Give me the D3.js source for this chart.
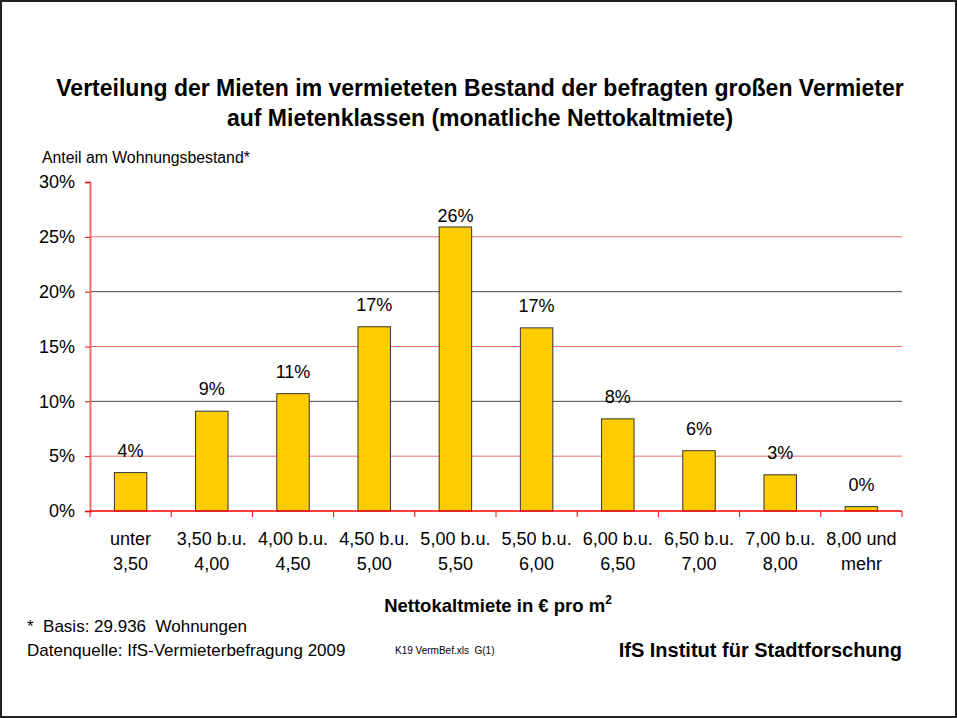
<!DOCTYPE html>
<html>
<head>
<meta charset="utf-8">
<script src="https://cdn.jsdelivr.net/npm/d3@7"></script>
<style>
  body { margin: 0; background: #fff; }
  svg { font-family: "Liberation Sans", Arial, sans-serif; }
  text { white-space: pre; }
</style>
</head>
<body>
<svg width="957" height="718"></svg>
<script>
// Data
var categories = ['unter|3,50', '3,50 b.u.|4,00', '4,00 b.u.|4,50', '4,50 b.u.|5,00', '5,00 b.u.|5,50',
    '5,50 b.u.|6,00', '6,00 b.u.|6,50', '6,50 b.u.|7,00', '7,00 b.u.|8,00', '8,00 und|mehr'];
var shares = [3.5, 9.1, 10.7, 16.8, 25.9, 16.7, 8.4, 5.5, 3.3, 0.4];
var labels = ['4%', '9%', '11%', '17%', '26%', '17%', '8%', '6%', '3%', '0%'];
var yTicks = [0, 5, 10, 15, 20, 25, 30];

var svg = d3.select('svg');
var svgWidth = +svg.attr('width');
var svgHeight = +svg.attr('height');

// frame round the whole sheet
svg.append('rect')
    .attr('x', 1).attr('y', 1)
    .attr('width', svgWidth - 2).attr('height', svgHeight - 2)
    .attr('fill', 'none')
    .attr('stroke', '#222')
    .attr('stroke-width', 2);

var padding = {t: 182, r: 55, b: 207, l: 90};
var chartWidth = svgWidth - padding.l - padding.r;
var chartHeight = svgHeight - padding.t - padding.b;

var chartG = svg.append('g')
    .attr('transform', 'translate(' + [padding.l, padding.t] + ')');

var xScale = d3.scaleBand()
    .domain(categories)
    .range([0, chartWidth])
    .paddingInner(0.6)
    .paddingOuter(0.3);

var yScale = d3.scaleLinear()
    .domain([0, 30])
    .range([chartHeight, 0]);

// gridlines: red at 5/15/25, dark at 10/20
chartG.selectAll('.grid')
    .data(yTicks.filter(function(d) { return d > 0 && d < 30; }))
    .enter()
    .append('line')
    .attr('class', 'grid')
    .attr('x1', 0).attr('x2', chartWidth)
    .attr('y1', function(d) { return yScale(d); })
    .attr('y2', function(d) { return yScale(d); })
    .attr('stroke', function(d) { return d % 10 === 0 ? '#444' : '#f26b6b'; })
    .attr('stroke-width', 1);

// y axis
var yAxisG = chartG.append('g')
    .call(d3.axisLeft(yScale).tickValues(yTicks).tickSize(5).tickFormat(function(d) { return d + '%'; }));
yAxisG.select('.domain').attr('stroke', '#f26b6b').attr('stroke-width', 2);
yAxisG.selectAll('.tick line').attr('stroke', '#f00');
yAxisG.selectAll('.tick text')
    .attr('x', -15)
    .attr('font-size', 18)
    .attr('font-family', '"Liberation Sans", Arial, sans-serif')
    .attr('fill', '#000');

// bars
chartG.selectAll('.bar')
    .data(shares)
    .enter()
    .append('rect')
    .attr('class', 'bar')
    .attr('x', function(d, i) { return xScale(categories[i]); })
    .attr('y', function(d) { return yScale(d); })
    .attr('width', xScale.bandwidth())
    .attr('height', function(d) { return chartHeight - yScale(d); })
    .attr('fill', '#ffcc00')
    .attr('stroke', '#333')
    .attr('stroke-width', 1);

// value labels (kept a bit below the plot top, like the tallest one)
chartG.selectAll('.val')
    .data(shares)
    .enter()
    .append('text')
    .attr('class', 'val')
    .attr('x', function(d, i) { return xScale(categories[i]) + xScale.bandwidth() / 2; })
    .attr('y', function(d) { return Math.max(yScale(d) - 16, 40); })
    .attr('text-anchor', 'middle')
    .attr('font-size', 18)
    .text(function(d, i) { return labels[i]; });

// x axis: category boundaries as ticks
var step = xScale.step();
var xAxisG = chartG.append('g')
    .attr('transform', 'translate(0,' + chartHeight + ')');
xAxisG.append('line')
    .attr('x1', 0).attr('x2', chartWidth)
    .attr('stroke', '#f00').attr('stroke-width', 1.5);
xAxisG.selectAll('.xtick')
    .data(d3.range(categories.length + 1))
    .enter()
    .append('line')
    .attr('x1', function(i) { return i * step; })
    .attr('x2', function(i) { return i * step; })
    .attr('y1', 0).attr('y2', 6)
    .attr('stroke', '#f00');

var xLab = xAxisG.selectAll('.xlab')
    .data(categories)
    .enter()
    .append('text')
    .attr('class', 'xlab')
    .attr('text-anchor', 'middle')
    .attr('font-size', 18)
    .attr('transform', function(d) { return 'translate(' + (xScale(d) + xScale.bandwidth() / 2) + ',0)'; });
xLab.append('tspan').attr('x', 0).attr('y', 34).text(function(d) { return d.split('|')[0]; });
xLab.append('tspan').attr('x', 0).attr('y', 58.5).text(function(d) { return d.split('|')[1]; });

// titles
var title = svg.append('text')
    .attr('text-anchor', 'middle')
    .attr('font-size', 23)
    .attr('font-weight', 'bold');
title.append('tspan').attr('x', 480).attr('y', 96)
    .text('Verteilung der Mieten im vermieteten Bestand der befragten großen Vermieter');
title.append('tspan').attr('x', 480).attr('y', 126)
    .text('auf Mietenklassen (monatliche Nettokaltmiete)');

svg.append('text')
    .attr('x', 42).attr('y', 163)
    .attr('font-size', 15.8)
    .text('Anteil am Wohnungsbestand*');

var xTitle = svg.append('text')
    .attr('x', 498).attr('y', 612)
    .attr('text-anchor', 'middle')
    .attr('font-size', 18.5)
    .attr('font-weight', 'bold');
xTitle.append('tspan').text('Nettokaltmiete in € pro m');
xTitle.append('tspan').attr('dy', -8).attr('font-size', 12).text('2');

// footer
svg.append('text').attr('x', 27).attr('y', 632).attr('font-size', 17)
    .text('*  Basis: 29.936  Wohnungen');
svg.append('text').attr('x', 27).attr('y', 656).attr('font-size', 17)
    .text('Datenquelle: IfS-Vermieterbefragung 2009');
svg.append('text').attr('x', 395).attr('y', 654).attr('font-size', 10)
    .text('K19 VermBef.xls  G(1)');
svg.append('text').attr('x', 902).attr('y', 657).attr('font-size', 20)
    .attr('font-weight', 'bold').attr('text-anchor', 'end')
    .text('IfS Institut für Stadtforschung');
</script>
</body>
</html>
